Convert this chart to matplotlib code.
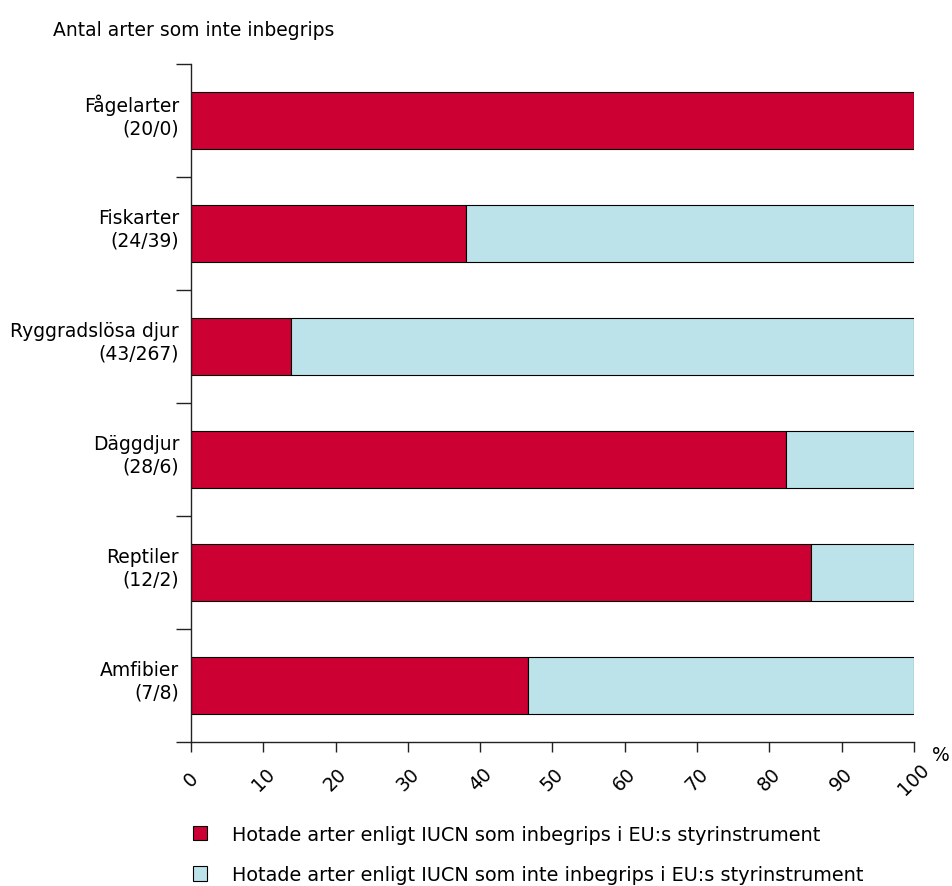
import numpy as np
import matplotlib
matplotlib.use('Agg')
import matplotlib.pyplot as plt
import matplotlib.transforms as mtransforms
from matplotlib.patches import Patch

# Threatened species per group: included / not included in EU instruments
groups = ['Fågelarter', 'Fiskarter', 'Ryggradslösa djur', 'Däggdjur', 'Reptiler', 'Amfibier']
included = [20, 24, 43, 28, 12, 7]
not_included = [0, 39, 267, 6, 2, 8]
xticks = list(range(0, 101, 10))

legend_labels = [
    'Hotade arter enligt IUCN som inbegrips i EU:s styrinstrument',
    'Hotade arter enligt IUCN som inte inbegrips i EU:s styrinstrument',
]

RED = '#CC0033'
BLUE = '#BDE3EA'

plt.rcParams['font.family'] = ['DejaVu Sans']
plt.rcParams['font.size'] = 13.5

inc = np.array(included, dtype=float)
exc = np.array(not_included, dtype=float)
total = inc + exc
pct_inc = inc / total * 100
pct_exc = exc / total * 100

fig = plt.figure(figsize=(9.52, 8.87), dpi=100)
ax = fig.add_axes([0.2006, 0.1623, 0.7594, 0.7644])

ypos = np.arange(len(groups))
ax.barh(ypos, pct_inc, height=0.5, color=RED, edgecolor='black', linewidth=0.8)
ax.barh(ypos, pct_exc, left=pct_inc, height=0.5, color=BLUE, edgecolor='black', linewidth=0.8)

ax.set_xlim(0, 100)
ax.set_ylim(len(groups) - 0.5, -0.5)

for side in ('top', 'right'):
    ax.spines[side].set_visible(False)
for side in ('left', 'bottom'):
    ax.spines[side].set_linewidth(1.0)
    ax.spines[side].set_color('#222222')

# category boundaries carry the ticks, centres carry the labels
ax.set_yticks(np.arange(-0.5, len(groups), 1.0))
ax.set_yticklabels([])
ax.tick_params(axis='y', which='major', length=11, width=1.0, color='#222222')
ax.set_yticks(ypos, minor=True)
ylabels = [f'{g}\n({a}/{b})' for g, a, b in zip(groups, included, not_included)]
ax.set_yticklabels(ylabels, minor=True, linespacing=1.2)
ax.tick_params(axis='y', which='minor', length=0, pad=8.5)
lift = mtransforms.ScaledTranslation(0, 6 / 72, fig.dpi_scale_trans)
for lbl in ax.get_yticklabels(minor=True):
    lbl.set_transform(lbl.get_transform() + lift)

ax.set_xticks(xticks)
ax.set_xticklabels([str(t) for t in xticks], rotation=45, ha='center', va='center',
                   rotation_mode='anchor')
ax.tick_params(axis='x', length=7.2, width=1.0, color='#222222', pad=19)

ax.text(1.025, -0.005, '%', transform=ax.transAxes, va='top', ha='left')

fig.text(53 / 952, 1 - 30 / 887, 'Antal arter som inte inbegrips', va='center', ha='left')

handles = [Patch(facecolor=RED, edgecolor='black', linewidth=0.8),
           Patch(facecolor=BLUE, edgecolor='black', linewidth=0.8)]
fig.legend(handles, legend_labels, loc='upper left', bbox_to_anchor=(0.2027, 1 - 826 / 887),
           frameon=False, handlelength=0.75, handleheight=0.75, handletextpad=1.25,
           labelspacing=1.1, borderaxespad=0, borderpad=0, fontsize=13.9)

fig.savefig('out.png', dpi=100, facecolor='white')
